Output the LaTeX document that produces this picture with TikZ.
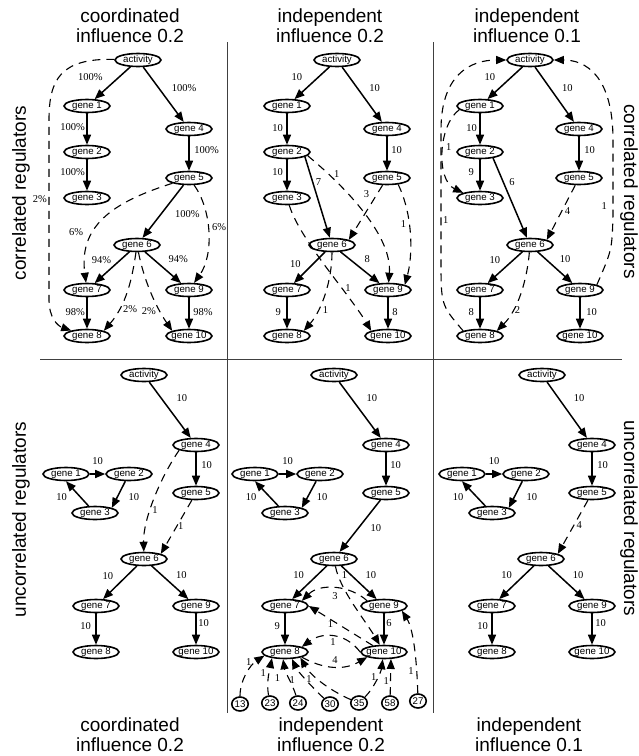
\documentclass[tikz,border=0pt]{standalone}
\usepackage{fontspec}
\setmainfont{Liberation Serif}
\setsansfont{Liberation Sans}
\usetikzlibrary{shapes.geometric,arrows.meta}

\begin{document}
\begin{tikzpicture}[x=1pt,y=-1pt,>={Triangle[length=10pt,width=8pt]},
  gene/.style={draw,ellipse,line width=1.6pt,minimum width=46pt,minimum height=13pt,inner xsep=-1.5pt,inner ysep=0pt,font=\sffamily\fontsize{9.7}{10}\selectfont},
  ext/.style={gene,minimum width=16.5pt,minimum height=14pt,inner xsep=0pt},
  reg/.style={->,line width=1.5pt},
  weak/.style={->,line width=1.1pt,dash pattern=on 8pt off 6pt},
  wt/.style={font=\fontsize{10.5}{11}\selectfont,inner sep=0.5pt},
  title/.style={font=\sffamily\fontsize{19}{20}\selectfont,align=center,inner sep=0pt},
  side/.style={font=\sffamily\fontsize{19}{20}\selectfont,inner sep=0pt}]
 \useasboundingbox (0,0) rectangle (639,756);

 \node[title,name=tCo] at (130,25.7)  {coordinated\\influence 0.2};
 \node[title,name=tIn] at (330,25.7)  {independent\\influence 0.2};
 \node[title,name=tLo] at (527,25.7)  {independent\\influence 0.1};
 \node[title,name=bCo] at (130,734.5) {coordinated\\influence 0.2};
 \node[title,name=bIn] at (331,734.5) {independent\\influence 0.2};
 \node[title,name=bLo] at (529,734.5) {independent\\influence 0.1};
 \node[side,rotate=90, name=sCorL] at (21,193)    {correlated regulators};
 \node[side,rotate=90, name=sUncL] at (21,519.5)  {uncorrelated regulators};
 \node[side,rotate=-90,name=sCorR] at (629,191.5) {correlated regulators};
 \node[side,rotate=-90,name=sUncR] at (629,518.5) {uncorrelated regulators};

 \draw[line width=0.9pt,black!75] (227,42) -- (227,713);
 \draw[line width=0.9pt,black!75] (433,42) -- (433,713);
 \draw[line width=0.9pt,black!75] (40,359) -- (622,359);

 \node[gene,name=caAct] at (138,60)  {activity};
 \node[gene,name=ca1  ] at (87,106)  {gene 1};
 \node[gene,name=ca2  ] at (87,152)  {gene 2};
 \node[gene,name=ca3  ] at (87,198)  {gene 3};
 \node[gene,name=ca4  ] at (189,129) {gene 4};
 \node[gene,name=ca5  ] at (189,178) {gene 5};
 \node[gene,name=ca6  ] at (137,245) {gene 6};
 \node[gene,name=ca7  ] at (87,290)  {gene 7};
 \node[gene,name=ca8  ] at (87,336)  {gene 8};
 \node[gene,name=ca9  ] at (189,290) {gene 9};
 \node[gene,name=ca10 ] at (189,336) {gene 10};
 \draw[reg] (caAct) -- (ca1)  node[wt,pos=.32,left=15pt]  {100\%};
 \draw[reg] (caAct) -- (ca4)  node[wt,pos=.38,right=12pt] {100\%};
 \draw[reg] (ca1)   -- (ca2)  node[wt,pos=.44,left=1pt]   {100\%};
 \draw[reg] (ca2)   -- (ca3)  node[wt,pos=.4,left=1pt]    {100\%};
 \draw[reg] (ca4)   -- (ca5)  node[wt,pos=.4,right=4pt]   {100\%};
 \draw[reg] (ca5)   -- (ca6)  node[wt,pos=.55,right=13pt] {100\%};
 \draw[reg] (ca6)   -- (ca7)  node[wt,pos=.26,left=8pt]   {94\%};
 \draw[reg] (ca6)   -- (ca9)  node[wt,pos=.23,right=14pt] {94\%};
 \draw[reg] (ca7)   -- (ca8)  node[wt,pos=.47,left=1pt]   {98\%};
 \draw[reg] (ca9)   -- (ca10) node[wt,pos=.47,right=3pt]  {98\%};
 \draw[weak] (caAct) .. controls (60,58) and (49,80) .. (49,120) -- node[wt,pos=.44,left=1pt] {2\%} (49,300) .. controls (49,318) and (58,326) .. (ca8);
 \draw[weak] (ca5) .. controls (120,200) and (78,222) .. (ca7)             node[wt,pos=.65,left=10pt] {6\%};
 \draw[weak] (ca5) .. controls (212,210) and (214,255) .. (ca9)            node[wt,pos=.45,right=3pt] {6\%};
 \draw[weak] (ca6) .. controls (132,280) and (126,305) .. (ca8.north east) node[wt,pos=.72,right=3pt] {2\%};
 \draw[weak] (ca6) .. controls (145,285) and (158,310) .. (ca10.north west) node[wt,pos=.7,left=3pt] {2\%};

 \node[gene,name=iaAct] at (337,60)  {activity};
 \node[gene,name=ia1  ] at (287,106) {gene 1};
 \node[gene,name=ia2  ] at (287,152) {gene 2};
 \node[gene,name=ia3  ] at (287,198) {gene 3};
 \node[gene,name=ia4  ] at (387,129) {gene 4};
 \node[gene,name=ia5  ] at (387,178) {gene 5};
 \node[gene,name=ia6  ] at (332,245) {gene 6};
 \node[gene,name=ia7  ] at (287,290) {gene 7};
 \node[gene,name=ia8  ] at (287,336) {gene 8};
 \node[gene,name=ia9  ] at (388,290) {gene 9};
 \node[gene,name=ia10 ] at (388,336) {gene 10};
 \draw[reg] (iaAct)   -- (ia1)  node[wt,pos=.32,left=15pt]  {10};
 \draw[reg] (iaAct)   -- (ia4)  node[wt,pos=.38,right=11pt] {10};
 \draw[reg] (ia1)     -- (ia2)  node[wt,pos=.47,left=3pt]   {10};
 \draw[reg] (ia2)     -- (ia3)  node[wt,pos=.4,left=3pt]    {10};
 \draw[reg] (ia4)     -- (ia5)  node[wt,pos=.4,right=3pt]   {10};
 \draw[reg] (ia2.-15) -- (ia6)  node[wt,pos=.31,right=2pt]  {7};
 \draw[reg] (ia6)     -- (ia7)  node[wt,pos=.39,left=11pt]  {10};
 \draw[reg] (ia6)     -- (ia9)  node[wt,pos=.23,right=14pt] {8};
 \draw[reg] (ia7)     -- (ia8)  node[wt,pos=.47,left=5pt]   {9};
 \draw[reg] (ia9)     -- (ia10) node[wt,pos=.47,right=3pt]  {8};
 \draw[weak] (ia2.-10) .. controls (355,195) and (392,240) .. (ia9)            node[wt,pos=.15,right=5pt] {1};
 \draw[weak] (ia5) -- (ia6.north east)                                       node[wt,pos=.16,left=7pt]  {3};
 \draw[weak] (ia5.-30) .. controls (413,215) and (413,255) .. (ia9.north east) node[wt,pos=.4,left=2pt]   {1};
 \draw[weak] (ia3) .. controls (300,240) and (350,295) .. (ia10.north west)   node[wt,pos=.65,right=3pt] {1};
 \draw[weak] (ia6) .. controls (332,280) and (322,310) .. (ia8.north east)    node[wt,pos=.7,right=4pt]  {1};

 \node[gene,name=laAct] at (530,60)  {activity};
 \node[gene,name=la1  ] at (480,106) {gene 1};
 \node[gene,name=la2  ] at (480,152) {gene 2};
 \node[gene,name=la3  ] at (480,198) {gene 3};
 \node[gene,name=la4  ] at (579,129) {gene 4};
 \node[gene,name=la5  ] at (579,178) {gene 5};
 \node[gene,name=la6  ] at (530,245) {gene 6};
 \node[gene,name=la7  ] at (480,290) {gene 7};
 \node[gene,name=la8  ] at (480,336) {gene 8};
 \node[gene,name=la9  ] at (580,290) {gene 9};
 \node[gene,name=la10 ] at (580,336) {gene 10};
 \draw[reg] (laAct)   -- (la1)  node[wt,pos=.32,left=15pt]  {10};
 \draw[reg] (laAct)   -- (la4)  node[wt,pos=.38,right=11pt] {10};
 \draw[reg] (la1)     -- (la2)  node[wt,pos=.47,left=2pt]   {10};
 \draw[reg] (la2)     -- (la3)  node[wt,pos=.4,left=5pt]    {9};
 \draw[reg] (la4)     -- (la5)  node[wt,pos=.4,right=4pt]   {10};
 \draw[reg] (la2.-25) -- (la6)  node[wt,pos=.3,right=5pt]   {6};
 \draw[reg] (la6)     -- (la7)  node[wt,pos=.26,left=12pt]  {10};
 \draw[reg] (la6)     -- (la9)  node[wt,pos=.23,right=13pt] {10};
 \draw[reg] (la7)     -- (la8)  node[wt,pos=.47,left=5pt]   {8};
 \draw[reg] (la9)     -- (la10) node[wt,pos=.47,right=5pt]  {10};
 \draw[weak] (la1.190) .. controls (438,125) and (436,180) .. (la3.north west) node[wt,pos=.45,right=2pt] {1};
 \draw[weak] (la8.north west) .. controls (441,305) .. (441,260) -- node[wt,pos=.31,right=1pt] {1} (441,130) .. controls (441,75) and (470,60) .. (laAct);
 \draw[weak] (la9.north east) .. controls (612,250) .. (613,215) -- node[wt,pos=.12,left=5pt] {1} (613,140) .. controls (613,75) and (585,60) .. (laAct);
 \draw[weak] (la5) -- (la6.north east)                                    node[wt,pos=.47,right=2pt] {4};
 \draw[weak] (la6) .. controls (527,280) and (518,310) .. (la8.north east) node[wt,pos=.7,right=1pt]  {2};

 \node[gene,name=cuAct] at (144,375) {activity};
 \node[gene,name=cu1  ] at (66,474)  {gene 1};
 \node[gene,name=cu2  ] at (129,474) {gene 2};
 \node[gene,name=cu3  ] at (95,513)  {gene 3};
 \node[gene,name=cu4  ] at (196,445) {gene 4};
 \node[gene,name=cu5  ] at (196,493) {gene 5};
 \node[gene,name=cu6  ] at (144,559) {gene 6};
 \node[gene,name=cu7  ] at (96,606)  {gene 7};
 \node[gene,name=cu8  ] at (96,652)  {gene 8};
 \node[gene,name=cu9  ] at (196,606) {gene 9};
 \node[gene,name=cu10 ] at (196,652) {gene 10};
 \draw[reg] (cuAct) -- (cu4)            node[wt,pos=.29,right=14pt] {10};
 \draw[reg] (cu4)   -- (cu5)            node[wt,pos=.38,right=4pt]  {10};
 \draw[reg] (cu1)   -- (cu2)            node[wt,midway,above=8.5pt] {10};
 \draw[reg] (cu2)   -- (cu3.north east) node[wt,pos=.59,right=10pt] {10};
 \draw[reg] (cu3)   -- (cu1.south)      node[wt,pos=.375,left=12pt] {10};
 \draw[reg] (cu6)   -- (cu7)            node[wt,pos=.31,left=12pt]  {10};
 \draw[reg] (cu6)   -- (cu9)            node[wt,pos=.28,right=13pt] {10};
 \draw[reg] (cu7)   -- (cu8)            node[wt,pos=.41,left=4pt]   {10};
 \draw[reg] (cu9)   -- (cu10)           node[wt,pos=.31,right=1pt]  {10};
 \draw[weak] (cu4.south west) .. controls (160,478) and (143,520) .. (cu6) node[wt,pos=.6,right=1pt] {1};
 \draw[weak] (cu5) -- (cu6.north east)                                    node[wt,pos=.48,right=0pt] {1};

 \node[gene,name=iuAct] at (334,375) {activity};
 \node[gene,name=iu1  ] at (255,474) {gene 1};
 \node[gene,name=iu2  ] at (320,474) {gene 2};
 \node[gene,name=iu3  ] at (285,513) {gene 3};
 \node[gene,name=iu4  ] at (386,445) {gene 4};
 \node[gene,name=iu5  ] at (386,493) {gene 5};
 \node[gene,name=iu6  ] at (334,559) {gene 6};
 \node[gene,name=iu7  ] at (285,606) {gene 7};
 \node[gene,name=iu8  ] at (285,652) {gene 8};
 \node[gene,name=iu9  ] at (384,606) {gene 9};
 \node[gene,name=iu10 ] at (384,652) {gene 10};
 \node[ext,name=ex13] at (240,704) {13};
 \node[ext,name=ex23] at (270,703) {23};
 \node[ext,name=ex24] at (298,703) {24};
 \node[ext,name=ex30] at (330,704) {30};
 \node[ext,name=ex35] at (359,703) {35};
 \node[ext,name=ex58] at (390,703) {58};
 \node[ext,name=ex27] at (418,701) {27};
 \draw[reg] (iuAct) -- (iu4)            node[wt,pos=.29,right=14pt] {10};
 \draw[reg] (iu4)   -- (iu5)            node[wt,pos=.38,right=3pt]  {10};
 \draw[reg] (iu1)   -- (iu2)            node[wt,midway,above=8.5pt] {10};
 \draw[reg] (iu2)   -- (iu3.north east) node[wt,pos=.59,right=8pt]  {10};
 \draw[reg] (iu3)   -- (iu1.south)      node[wt,pos=.375,left=12pt] {10};
 \draw[reg] (iu5)   -- (iu6)            node[wt,pos=.54,right=11pt] {10};
 \draw[reg] (iu6)   -- (iu7)            node[wt,pos=.28,left=12pt]  {10};
 \draw[reg] (iu6)   -- (iu9)            node[wt,pos=.28,right=13pt] {10};
 \draw[reg] (iu7)   -- (iu8)            node[wt,pos=.41,left=4pt]   {9};
 \draw[reg] (iu9)   -- (iu10)           node[wt,pos=.31,right=1pt]  {6};
 \draw[weak] (iu6) .. controls (340,590) and (365,620) .. (iu10)                     node[wt,pos=.12,right=3pt]  {1};
 \draw[weak] (iu9.north west) .. controls (350,585) and (320,583) .. (iu7.north east) node[wt,midway,below=3pt] {3};
 \draw[weak] (iu10.150) -- (iu7.east)                                                node[wt,pos=.66,below=0pt]  {1};
 \draw[weak] (iu10.west) .. controls (345,632) and (322,632) .. (iu8.north east)     node[wt,midway,below=1.5pt] {1};
 \draw[weak] (iu8.south east) .. controls (325,670) and (345,670) .. (iu10.south west) node[wt,midway,above=2pt] {4};
 \draw[weak] (ex13) .. controls (240,680) and (250,665) .. (iu8.190)  node[wt,pos=.8,left=4pt]  {1};
 \draw[weak] (ex23) .. controls (266,682) and (270,668) .. (iu8.205)  node[wt,pos=.55,left=2pt] {1};
 \draw[weak] (ex24) .. controls (293,685) and (285,672) .. (iu8.255)  node[wt,pos=.5,left=8pt]  {1};
 \draw[weak] (ex30) .. controls (315,690) and (298,672) .. (iu8.-45)  node[wt,pos=.5,left=11pt] {1};
 \draw[weak] (ex35) .. controls (335,693) and (312,678) .. (iu8.-20)  node[wt,pos=.6,left=6pt]  {1};
 \draw[weak] (ex35) .. controls (374,688) and (381,672) .. (iu10.260) node[wt,pos=.55,left=0pt] {1};
 \draw[weak] (ex58) -- (iu10.-45)                                     node[wt,pos=.4,left=0.5pt] {1};
 \draw[weak] (ex27) .. controls (417,665) and (414,630) .. (iu9.-15)  node[wt,pos=.25,left=2pt] {1};

 \node[gene,name=luAct] at (542,375) {activity};
 \node[gene,name=lu1  ] at (462,474) {gene 1};
 \node[gene,name=lu2  ] at (526,474) {gene 2};
 \node[gene,name=lu3  ] at (492,513) {gene 3};
 \node[gene,name=lu4  ] at (592,445) {gene 4};
 \node[gene,name=lu5  ] at (592,493) {gene 5};
 \node[gene,name=lu6  ] at (541,559) {gene 6};
 \node[gene,name=lu7  ] at (492,606) {gene 7};
 \node[gene,name=lu8  ] at (492,652) {gene 8};
 \node[gene,name=lu9  ] at (592,606) {gene 9};
 \node[gene,name=lu10 ] at (592,652) {gene 10};
 \draw[reg] (luAct) -- (lu4)            node[wt,pos=.29,right=14pt] {10};
 \draw[reg] (lu4)   -- (lu5)            node[wt,pos=.38,right=4pt]  {10};
 \draw[reg] (lu1)   -- (lu2)            node[wt,midway,above=8.5pt] {10};
 \draw[reg] (lu2)   -- (lu3.north east) node[wt,pos=.59,right=11pt] {10};
 \draw[reg] (lu3)   -- (lu1.south)      node[wt,pos=.375,left=12pt] {10};
 \draw[reg] (lu6)   -- (lu7)            node[wt,pos=.28,left=11pt]  {10};
 \draw[reg] (lu6)   -- (lu9)            node[wt,pos=.28,right=13pt] {10};
 \draw[reg] (lu7)   -- (lu8)            node[wt,pos=.41,left=3pt]   {10};
 \draw[reg] (lu9)   -- (lu10)           node[wt,pos=.31,right=2pt]  {10};
 \draw[weak] (lu5) -- (lu6.north east)  node[wt,pos=.46,right=1.5pt] {4};
\end{tikzpicture}
\end{document}
